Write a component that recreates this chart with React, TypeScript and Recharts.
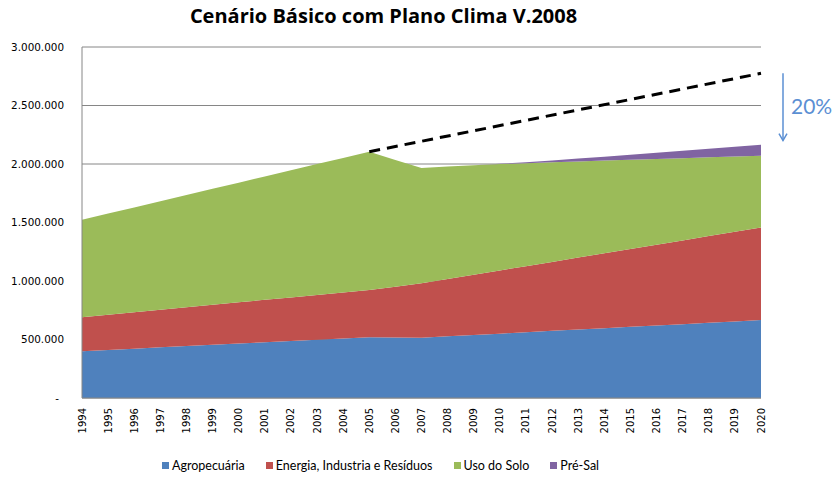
import React from 'react';
import {
  ComposedChart,
  Area,
  Line,
  XAxis,
  YAxis,
  CartesianGrid,
  Legend,
  ReferenceLine,
} from 'recharts';

const years = [
  '1994', '1995', '1996', '1997', '1998', '1999', '2000', '2001', '2002', '2003',
  '2004', '2005', '2006', '2007', '2008', '2009', '2010', '2011', '2012', '2013',
  '2014', '2015', '2016', '2017', '2018', '2019', '2020',
];

const agropecuaria = [
  400000, 411000, 422000, 433000, 444000, 455000, 466000, 476000, 487000, 498000,
  509000, 520000, 518000, 516000, 527000, 539000, 550000, 562000, 574000, 585000,
  597000, 608000, 620000, 631000, 643000, 654000, 666000,
];

const energia = [
  291000, 301000, 311000, 321000, 331000, 341000, 352000, 363000, 373000, 383000,
  393000, 403000, 433000, 464000, 490000, 514000, 540000, 565000, 589000, 615000,
  640000, 666000, 690000, 716000, 741000, 766000, 791000,
];

const usoSolo = [
  832000, 864000, 896000, 928000, 960000, 992000, 1022000, 1054000, 1086000, 1118000,
  1150000, 1182000, 1084000, 986000, 961000, 936000, 909000, 880000, 851000, 821000,
  792000, 762000, 733000, 703000, 673000, 644000, 614000,
];

const preSal = [
  0, 0, 0, 0, 0, 0, 0, 0, 0, 0,
  0, 0, 0, 0, 0, 1000, 3000, 8000, 16000, 25000,
  34000, 44000, 54000, 64000, 74000, 84000, 94000,
];

const tendencia: (number | null)[] = [
  null, null, null, null, null, null, null, null, null, null,
  null, 2105000, null, null, null, null, null, null, null, null,
  null, null, null, null, null, null, 2775000,
];

const yTicks = [0, 500000, 1000000, 1500000, 2000000, 2500000, 3000000];

const reductionTop = 2775000;
const reductionBottom = 2200000;
const reductionLabel = '20%';

const seriesInfo = [
  { key: 'agro', name: 'Agropecuária', color: '#4F81BD' },
  { key: 'energia', name: 'Energia, Industria e Resíduos', color: '#C0504D' },
  { key: 'solo', name: 'Uso do Solo', color: '#9BBB59' },
  { key: 'presal', name: 'Pré-Sal', color: '#8064A2' },
];

const data = years.map((year, i) => ({
  year,
  agro: agropecuaria[i],
  energia: energia[i],
  solo: usoSolo[i],
  presal: preSal[i],
  tendencia: tendencia[i],
}));

const fmt = (v: number) =>
  v === 0 ? '-' : String(v).replace(/\B(?=(\d{3})+(?!\d))/g, '.');

const tickFont = '"DejaVu Sans", Verdana, sans-serif';

const YTick = (props: any) => {
  const { x, y, payload } = props;
  const isZero = payload.value === 0;
  return (
    <text
      x={isZero ? x - 5 : x}
      y={y}
      dy="0.35em"
      textAnchor="end"
      fontFamily={tickFont}
      fontSize={10.4}
      fill="#000"
    >
      {fmt(payload.value)}
    </text>
  );
};

const XTick = (props: any) => {
  const { x, y, payload } = props;
  return (
    <text
      x={x}
      y={y}
      dy="0.35em"
      textAnchor="end"
      transform={`rotate(-90, ${x}, ${y})`}
      fontFamily={tickFont}
      fontSize={10}
      fill="#000"
    >
      {payload.value}
    </text>
  );
};

const LegendContent = () => (
  <div
    style={{
      display: 'flex',
      justifyContent: 'center',
      alignItems: 'center',
      height: 20,
      fontFamily: 'Lato, "Open Sans", sans-serif',
      fontSize: 12.5,
      color: '#000',
    }}
  >
    {seriesInfo.map((s, i) => (
      <div
        key={s.key}
        style={{
          display: 'flex',
          alignItems: 'center',
          marginRight: i === seriesInfo.length - 1 ? 0 : 21,
        }}
      >
        <span
          style={{
            display: 'inline-block',
            width: 7,
            height: 7,
            background: s.color,
            marginRight: 3,
          }}
        />
        <span>{s.name}</span>
      </div>
    ))}
  </div>
);

const ArrowShape = (props: any) => {
  const { x1, y1, y2 } = props;
  if (x1 == null || y1 == null || y2 == null) return null;
  const ax = x1 + 22;
  const color = '#5B8FD3';
  return (
    <g>
      <line x1={ax} y1={y1} x2={ax} y2={y2} stroke={color} strokeWidth={1.5} />
      <polyline
        points={`${ax - 4},${y2 - 7} ${ax},${y2} ${ax + 4},${y2 - 7}`}
        fill="none"
        stroke={color}
        strokeWidth={1.5}
      />
      <text
        x={ax + 8}
        y={(y1 + y2) / 2}
        dy="0.35em"
        fontFamily='Lato, "Open Sans", sans-serif'
        fontSize={21}
        fill={color}
      >
        {reductionLabel}
      </text>
    </g>
  );
};

export default function App() {
  return (
    <div style={{ position: 'absolute', left: 0, top: 0, width: 834, height: 478, background: '#fff' }}>
      <div
        style={{
          position: 'absolute',
          left: 0,
          top: 3,
          width: 767,
          textAlign: 'center',
          fontFamily: '"Open Sans", Lato, sans-serif',
          fontWeight: 700,
          fontSize: 20,
          lineHeight: '26px',
          color: '#000',
        }}
      >
        Cenário Básico com Plano Clima V.2008
      </div>
      <div style={{ position: 'absolute', left: 0, top: 0 }}>
        <ComposedChart
          width={834}
          height={478}
          data={data}
          margin={{ top: 47, right: 73, left: 0, bottom: 18 }}
        >
          <CartesianGrid horizontal vertical={false} stroke="#868686" strokeWidth={1} />
          <XAxis
            dataKey="year"
            interval={0}
            height={42}
            tickSize={0}
            tickMargin={10}
            tick={<XTick />}
            axisLine={{ stroke: '#868686' }}
            tickLine={false}
          />
          <YAxis
            width={82}
            domain={[0, 3000000]}
            ticks={yTicks}
            interval={0}
            tickSize={0}
            tickMargin={18}
            tick={<YTick />}
            axisLine={{ stroke: '#868686' }}
            tickLine={false}
          />
          {seriesInfo.map((s) => (
            <Area
              key={s.key}
              type="linear"
              dataKey={s.key}
              name={s.name}
              stackId="1"
              stroke="none"
              fill={s.color}
              fillOpacity={1}
              isAnimationActive={false}
              dot={false}
              activeDot={false}
            />
          ))}
          <Line
            type="linear"
            dataKey="tendencia"
            stroke="#000"
            strokeWidth={3}
            strokeDasharray="11 7"
            dot={false}
            activeDot={false}
            connectNulls
            legendType="none"
            isAnimationActive={false}
          />
          <ReferenceLine
            segment={[
              { x: '2020', y: reductionTop },
              { x: '2020', y: reductionBottom },
            ]}
            ifOverflow="visible"
            shape={(p: any) => <ArrowShape {...p} />}
          />
          <Legend
            verticalAlign="bottom"
            height={20}
            content={<LegendContent />}
            wrapperStyle={{ bottom: 3 }}
          />
        </ComposedChart>
      </div>
    </div>
  );
}
